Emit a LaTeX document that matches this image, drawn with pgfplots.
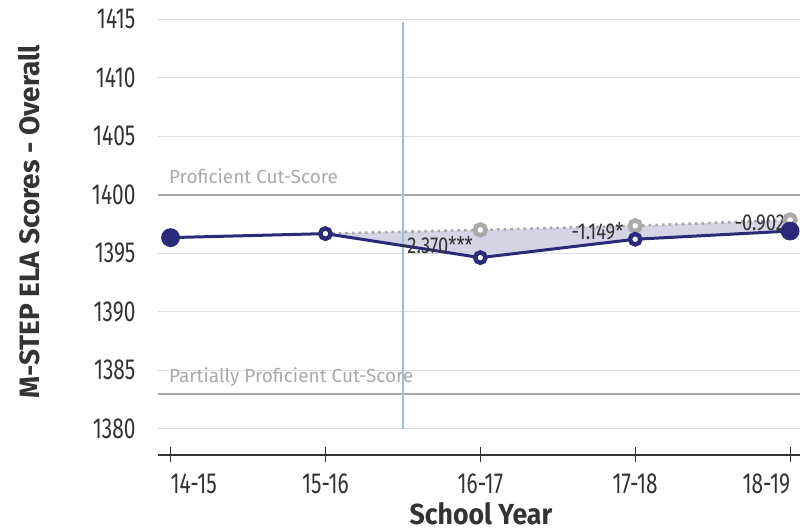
\documentclass[border=0pt]{standalone}
\usepackage{fontspec}
\setmainfont{Fira Sans}
\newfontfamily\condensed{Fira Sans}[FakeStretch=0.72]
\newfontfamily\semicond{Fira Sans}[FakeStretch=0.8]
\newfontfamily\slightcond{Fira Sans}[FakeStretch=0.92]
\usepackage{pgfplots}
\pgfplotsset{compat=1.18}

\definecolor{navy}{HTML}{2B2A78}
\definecolor{ptgray}{HTML}{AAAAAA}
\definecolor{gridgray}{HTML}{DDDDDD}
\definecolor{cutgray}{HTML}{A8A8A8}
\definecolor{vline}{HTML}{9CC0DC}
\definecolor{txt}{HTML}{333333}

\begin{document}
\begin{tikzpicture}
\begin{axis}[
  scale only axis,
  width=321pt, height=217.85pt,
  xmin=-0.081, xmax=4.064,
  ymin=1377.76, ymax=1415,
  axis x line*=bottom,
  axis y line*=left,
  y axis line style={draw=none},
  x axis line style={draw=txt, line width=0.8pt},
  ytick={1380,1385,...,1415},
  ytick style={draw=none},
  ymajorgrids,
  grid style={gridgray, line width=0.7pt},
  xtick={0,1,2,3,4},
  xticklabels={\makebox[0pt][l]{14-15},15-16,16-17,17-18,\makebox[0pt][r]{18-19}},
  tick align=center,
  major tick length=7.5pt,
  xtick style={draw=txt, line width=0.5pt},
  tick label style={font=\fontsize{14.5}{16}\condensed, text=txt},
  yticklabel style={xshift=-4pt},
  xticklabel style={yshift=-2pt},
  yticklabel={\pgfmathprintnumber[1000 sep={}]{\tick}},
  /pgf/number format/assume math mode=true,
  ylabel={M-STEP ELA Scores - Overall},
  xlabel={School Year},
  every axis y label/.style={at={(axis description cs:-0.2,0.536)}, rotate=90, anchor=center,
    font=\fontsize{14}{16}\bfseries, text=txt},
  every axis x label/.style={at={(axis description cs:0.503,0)}, anchor=center, yshift=-29.5pt,
    font=\fontsize{14.5}{16}\bfseries\slightcond, text=txt},
  clip=true,
]
\coordinate (bl) at (rel axis cs:0,0);

% cut-score reference lines
\addplot[cutgray, line width=1pt] coordinates {(-1,1400) (5,1400)};
\addplot[cutgray, line width=1pt] coordinates {(-1,1383) (5,1383)};
\node[anchor=base west, font=\fontsize{9.5}{11}\selectfont, text=ptgray, xshift=2pt, yshift=5.5pt]
  at (axis cs:-0.081,1400) {Proficient Cut-Score};
\node[anchor=base west, font=\fontsize{9.5}{11}\selectfont, text=ptgray, xshift=2pt, yshift=5.5pt]
  at (axis cs:-0.081,1383) {Partially Proficient Cut-Score};

% gap between observed and projected
\addplot[fill=navy!20, draw=none] coordinates {
  (1,1396.68) (2,1394.63) (3,1396.2) (4,1396.9)
  (4,1397.85) (3,1397.35) (2,1397.0)} -- cycle;

% policy line
\addplot[vline, line width=0.75pt] coordinates {(1.5,1380) (1.5,1414.8)};

% projected (gray, dotted)
\addplot[ptgray, line width=1.3pt, dotted] coordinates {
  (1,1396.68) (2,1397.0) (3,1397.35) (4,1397.85)};
\addplot[only marks, mark=*, mark size=2.7pt,
  mark options={fill=white, draw=ptgray, line width=2.3pt}] coordinates {
  (2,1397.0) (3,1397.35) (4,1397.85)};

% observed (navy)
\addplot[navy, line width=1.5pt] coordinates {
  (0,1396.34) (1,1396.68) (2,1394.63) (3,1396.2) (4,1396.9)};
\addplot[only marks, mark=*, mark size=2.6pt,
  mark options={fill=white, draw=navy, line width=2.2pt}] coordinates {
  (1,1396.68) (2,1394.63) (3,1396.2)};
\addplot[only marks, mark=*, mark size=4.5pt, mark options={fill=navy, draw=navy}] coordinates {
  (0,1396.34) (4,1396.9)};

% difference labels
\node[font=\fontsize{11.5}{13}\semicond, text=txt] at (axis cs:1.72,1395.72) {-2.370***};
\node[font=\fontsize{11.5}{13}\semicond, text=txt] at (axis cs:2.757,1396.9) {-1.149*};
\node[font=\fontsize{11.5}{13}\semicond, text=txt] at (axis cs:3.805,1397.6) {-0.902};
\end{axis}
\pgfresetboundingbox
\path ([shift={(-79pt,-37.5pt)}]bl) rectangle ([shift={(321pt,227.5pt)}]bl);
\end{tikzpicture}
\end{document}
